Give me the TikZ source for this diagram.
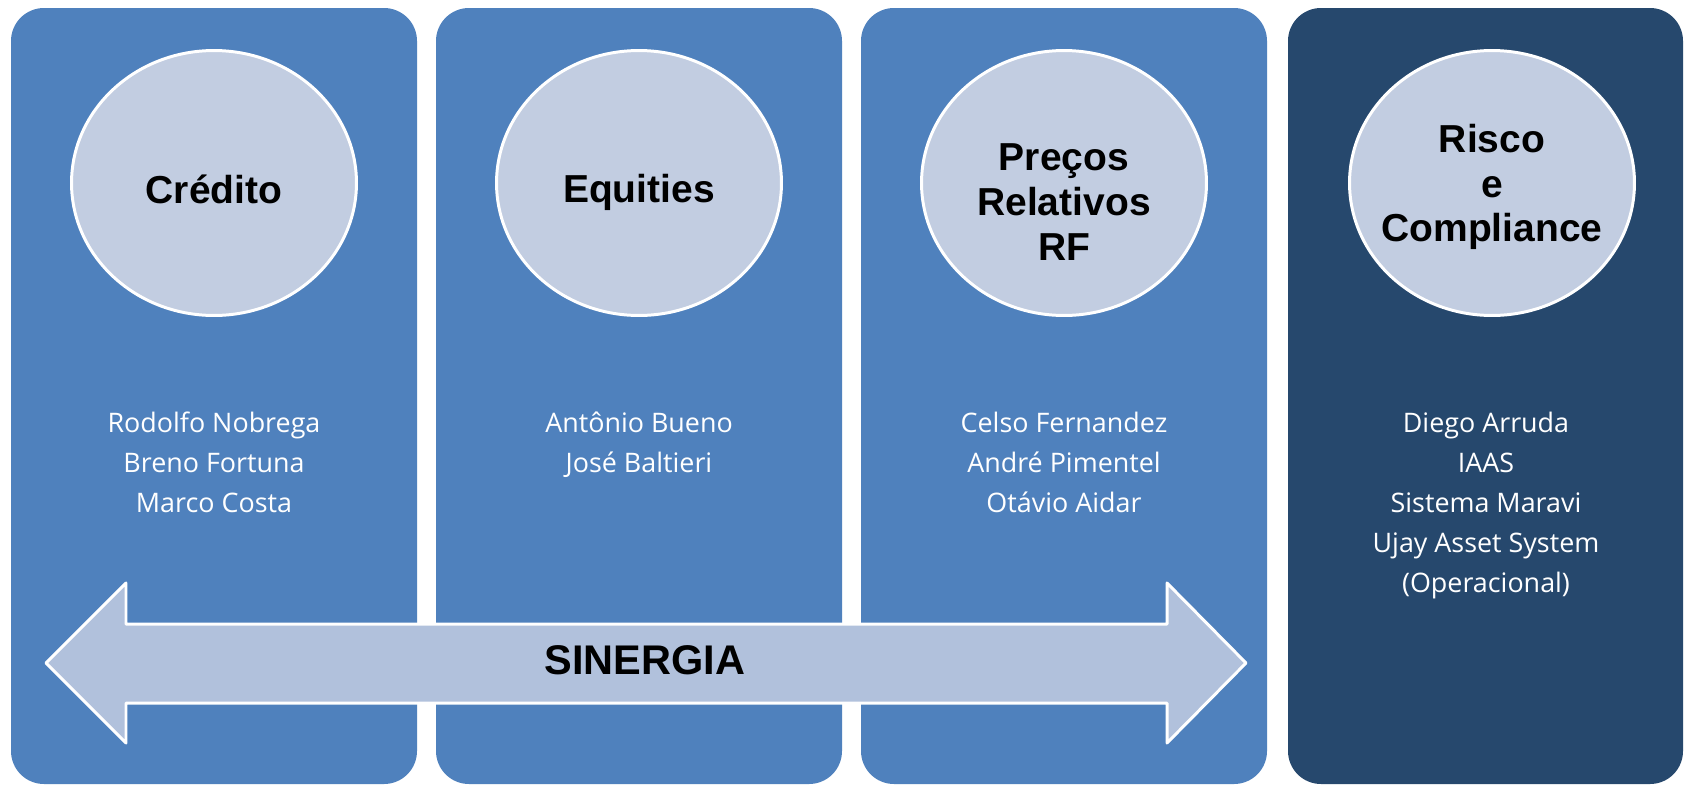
\documentclass[tikz,border=0pt]{standalone}
\usepackage{fontspec}
\setmainfont{Liberation Sans}
\newfontfamily\namefont{Open Sans}
\usetikzlibrary{shapes.geometric}

\begin{document}
\begin{tikzpicture}[x=0.02cm,y=-0.02cm]
\definecolor{panelblue}{RGB}{79,129,189}
\definecolor{paneldark}{RGB}{38,72,109}
\definecolor{circlefill}{RGB}{194,205,225}
\definecolor{arrowfill}{RGB}{177,193,220}
\tikzset{panel/.style = {fill=panelblue, rounded corners=0.66cm}}
\tikzset{area/.style = {ellipse, draw=white, line width=1.7pt, fill=circlefill, minimum width=5.7cm, minimum height=5.3cm, inner sep=0pt}}
\tikzset{title/.style = {align=center, inner sep=0pt, font=\bfseries\fontsize{22.2}{25.4}\selectfont}}
\tikzset{names/.style = {anchor=north, align=center, text=white, font=\namefont\fontsize{15.3}{22.8}\selectfont}}
\def \ny {406}
\useasboundingbox[fill=white] (0,0) rectangle (1684,785);
% panels
\fill[panel] (11,8) rectangle (417,784);
\fill[panel] (436,8) rectangle (842,784);
\fill[panel] (861,8) rectangle (1267,784);
\fill[panel, fill=paneldark] (1288,8) rectangle (1683,784);
% areas
\node[area, label={[title, yshift=-0.12cm]center:Cr\'edito}](credito) at (214,183) {};
\node[area, label={[title, yshift=-0.18cm]center:Equities}](equities) at (639,183) {};
\node[area, label={[title, yshift=-0.38cm]center:Pre\c{c}os\\Relativos\\RF}](precos) at (1064,183) {};
\node[area, label={[title, yshift=-0.08cm]center:Risco\\e\\Compliance}](risco) at (1492,183) {};
% people
\node[names](ncredito) at (214,\ny) {Rodolfo Nobrega\\Breno Fortuna\\Marco Costa};
\node[names](nequities) at (639,\ny) {Ant\^onio Bueno\\Jos\'e Baltieri};
\node[names](nprecos) at (1064,\ny) {Celso Fernandez\\Andr\'e Pimentel\\Ot\'avio Aidar};
\node[names](nrisco) at (1486,\ny) {Diego Arruda\\IAAS\\Sistema Maravi\\Ujay Asset System\\(Operacional)};
% synergy arrow
\draw[white, line width=1.7pt, fill=arrowfill, line join=round]
  (46,663) -- (126,583) -- (126,624) -- (1167,624) -- (1167,583) -- (1246,663)
  -- (1167,743) -- (1167,703) -- (126,703) -- (126,743) -- cycle;
\node[font=\bfseries\fontsize{23.6}{28}\selectfont](sinergia) at (645,660) {SINERGIA};
\end{tikzpicture}
\end{document}
